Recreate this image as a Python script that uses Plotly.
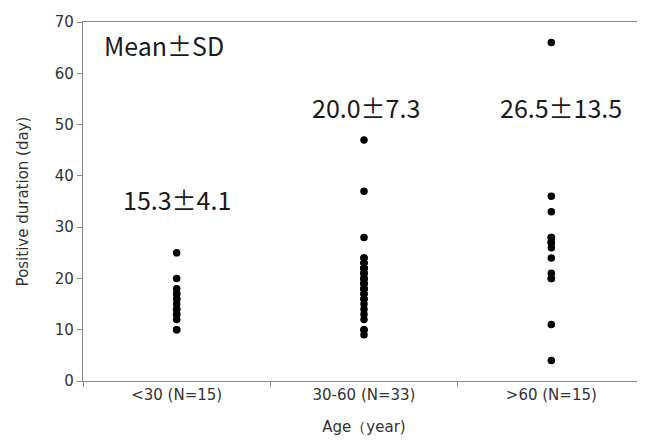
import plotly.graph_objects as go

categories = ["<30 (N=15)", "30-60 (N=33)", ">60 (N=15)"]
under30 = [25, 20, 18, 17, 17, 16, 16, 15, 14, 14, 13, 13, 12, 10, 10]
age30_60 = [47, 37, 28, 24, 24, 23, 23, 22, 22, 22, 21, 21, 21, 20, 20, 20,
            19, 19, 19, 18, 18, 18, 17, 17, 16, 16, 15, 14, 13, 12, 10, 10, 9]
over60 = [66, 36, 33, 28, 28, 27, 27, 27, 26, 24, 21, 20, 20, 11, 4]
groups = [under30, age30_60, over60]
stat_labels = ["15.3±4.1", "20.0±7.3", "26.5±13.5"]
stat_y = [35.5, 53.5, 53.5]
stat_shift = [0, 2, 10]
y_ticks = [0, 10, 20, 30, 40, 50, 60, 70]

fig = go.Figure()
for cat, vals in zip(categories, groups):
    fig.add_trace(go.Scatter(
        x=[cat] * len(vals), y=vals, mode="markers",
        marker=dict(color="black", size=7.5),
        showlegend=False, hoverinfo="y"))

txt_font = dict(family="Noto Sans CJK JP", size=25, color="#1a1a1a")
for cat, lab, yy, sh in zip(categories, stat_labels, stat_y, stat_shift):
    fig.add_annotation(x=cat, y=yy, text=lab, showarrow=False, font=txt_font,
                       xref="x", yref="y", xshift=sh)
fig.add_annotation(x=-0.4, y=65.5, text="Mean±SD", showarrow=False,
                   font=txt_font, xref="x", yref="y", xanchor="left")

axis_font = dict(family="DejaVu Sans", size=15, color="#333333")
fig.update_layout(
    width=637, height=436,
    margin=dict(l=75, r=0, t=14, b=63),
    plot_bgcolor="white", paper_bgcolor="white",
    xaxis=dict(
        type="category", categoryorder="array", categoryarray=categories,
        range=[-0.5, 2.5], tickson="boundaries", ticks="outside", ticklen=5,
        tickcolor="#888888", linecolor="#888888", linewidth=1.2,
        mirror=True, showgrid=False, zeroline=False,
        tickfont=axis_font,
        title=dict(text="Age（year)", font=axis_font, standoff=18),
    ),
    yaxis=dict(
        range=[0, 70], tickvals=y_ticks, ticks="outside", ticklen=5,
        tickcolor="#888888", linecolor="#888888", linewidth=1.2,
        showgrid=False, zeroline=False, tickfont=axis_font,
        title=dict(text="Positive duration (day)", font=axis_font, standoff=22),
    ),
)

fig.write_html("out.html")
